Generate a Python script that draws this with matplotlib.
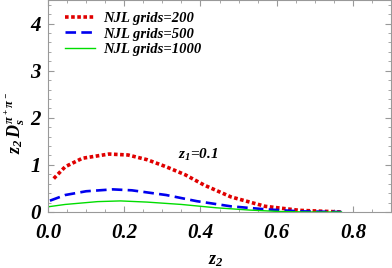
import matplotlib.pyplot as plt
from matplotlib.ticker import MultipleLocator

# curve samples
x_red = [0.015, 0.045, 0.09, 0.16, 0.21, 0.26, 0.31, 0.36, 0.41, 0.48, 0.57, 0.66, 0.77]
y_red = [0.71, 0.96, 1.14, 1.23, 1.21, 1.11, 0.96, 0.79, 0.57, 0.32, 0.12, 0.035, 0.0]
x_blue = [0.005, 0.045, 0.10, 0.17, 0.22, 0.31, 0.39, 0.48, 0.57, 0.66, 0.77]
y_blue = [0.24, 0.36, 0.44, 0.48, 0.46, 0.36, 0.23, 0.12, 0.057, 0.014, 0.0]
x_green = [0.0, 0.045, 0.13, 0.19, 0.26, 0.35, 0.44, 0.53, 0.61, 0.68, 0.77]
y_green = [0.11, 0.16, 0.22, 0.235, 0.21, 0.16, 0.09, 0.04, 0.01, 0.0, 0.0]
labels = ['NJL grids=200', 'NJL grids=500', 'NJL grids=1000']

plt.rcParams['font.family'] = 'Liberation Serif'
plt.rcParams['font.weight'] = 'bold'
plt.rcParams['font.style'] = 'italic'
plt.rcParams['mathtext.fontset'] = 'custom'
plt.rcParams['mathtext.it'] = 'Liberation Serif:italic:bold'
plt.rcParams['mathtext.rm'] = 'Liberation Serif:italic:bold'

fig = plt.figure(figsize=(3.92, 2.68), dpi=100)
ax = fig.add_axes([0.1225, 0.209, 0.875, 0.791])

ax.plot(x_red, y_red, color='#e00000', lw=2.6, ls=(0, (1.0, 0.7)), label=labels[0])
ax.plot(x_blue, y_blue, color='#0000ee', lw=1.9, ls=(0, (4, 2)), label=labels[1])
ax.plot(x_green, y_green, color='#00dd00', lw=1.0, label=labels[2])

ax.set_xlim(0, 0.9)
ax.set_ylim(0, 4.5)
ax.xaxis.set_major_locator(MultipleLocator(0.2))
ax.xaxis.set_minor_locator(MultipleLocator(0.05))
ax.yaxis.set_major_locator(MultipleLocator(1))
ax.yaxis.set_minor_locator(MultipleLocator(0.2))
ax.set_xticks([0, 0.2, 0.4, 0.6, 0.8])
ax.set_xticklabels(['0.0', '0.2', '0.4', '0.6', '0.8'])
ax.tick_params(which='both', direction='in', top=True, right=True, color='#999999')
ax.tick_params(which='major', length=4)
ax.tick_params(which='minor', length=2)
ax.tick_params(axis='x', labelsize=15, pad=8)
ax.tick_params(axis='y', labelsize=15, pad=5)
for s in ax.spines.values():
    s.set_color('#999999')

ax.set_xlabel('$z_2$', fontsize=13)
ax.xaxis.set_label_coords(0.49, -0.19)
ax.set_ylabel('$z_2\\,D_s^{\\pi^+\\pi^-}$', fontsize=13)
ax.yaxis.set_label_coords(-0.06, 0.42)
ax.text(0.34, 1.13, '$z_1$=0.1', fontsize=11)

leg = ax.legend(loc='upper left', frameon=False, handlelength=2.05, handletextpad=0.55,
                fontsize=10.5, labelspacing=0.15, borderaxespad=0.2,
                bbox_to_anchor=(0.025, 0.985))

fig.savefig('out.png', dpi=100)
